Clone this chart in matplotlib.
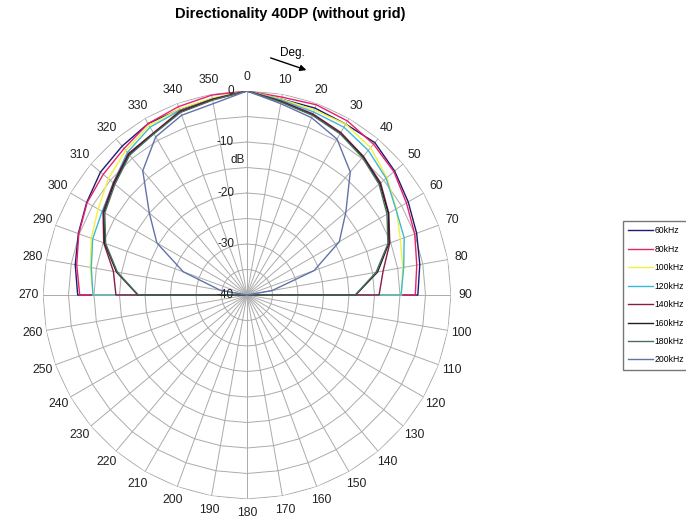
import numpy as np
import matplotlib
matplotlib.use("Agg")
import matplotlib.pyplot as plt
from matplotlib.transforms import offset_copy

plt.rcParams['font.family'] = ['Liberation Sans', 'DejaVu Sans']

# angles (deg) from 260 round through 0 to 100; ends sit at the -40 dB floor
angles = [260, 270, 280, 290, 300, 310, 320, 330, 340, 350,
          0, 10, 20, 30, 40, 50, 60, 70, 80, 90, 100]

khz60 = [-40, -6.8, -5.8, -4.8, -3.7, -2.5, -1.9, -1.2, -1.3, -0.9,
         0, -1.0, -1.0, -1.3, -1.0, -2.2, -3.5, -4.6, -5.6, -6.5, -40]
khz80 = [-40, -7.2, -6.1, -4.9, -3.8, -3.2, -2.5, -1.2, -0.7, -0.2,
         0, -0.6, -0.3, -0.6, -1.4, -2.4, -3.9, -5.0, -6.2, -7.0, -40]
khz100 = [-40, -9.8, -8.8, -7.5, -6.3, -4.5, -3.0, -1.6, -1.2, -0.8,
          0, -1.0, -1.4, -1.3, -2.3, -4.2, -6.2, -8.0, -9.0, -9.7, -40]
khz120 = [-40, -9.8, -9.0, -7.8, -7.2, -5.8, -3.5, -2.0, -1.5, -1.0,
          0, -1.2, -1.8, -2.0, -3.0, -4.4, -6.3, -7.2, -8.8, -9.8, -40]
khz140 = [-40, -14.3, -13.4, -10.1, -7.4, -5.8, -3.8, -3.3, -1.6, -1.0,
          0, -1.4, -2.2, -3.2, -4.5, -5.8, -7.9, -10.2, -12.9, -14.1, -40]
khz160 = [-40, -18.6, -14.0, -10.3, -7.6, -6.0, -4.0, -3.4, -1.8, -1.1,
          0, -1.5, -2.4, -3.4, -4.6, -6.0, -8.0, -10.4, -14.0, -18.7, -40]
khz180 = [-40, -18.7, -14.2, -10.5, -7.8, -6.2, -4.2, -3.5, -1.9, -1.2,
          0, -1.6, -2.5, -3.5, -4.8, -6.2, -8.3, -10.6, -14.3, -18.8, -40]
khz200 = [-40, -40, -34.7, -26.7, -19.6, -15.0, -8.2, -4.2, -2.5, -1.9,
          0, -1.9, -3.0, -4.7, -8.5, -14.7, -19.1, -26.0, -35.0, -40, -40]

series = [khz60, khz80, khz100, khz120, khz140, khz160, khz180, khz200]
labels = ["60kHz", "80kHz", "100kHz", "120kHz", "140kHz", "160kHz", "180kHz", "200kHz"]
colors = ["#1c1c6e", "#e8206e", "#f2f23c", "#3cb8d8", "#8a1a48", "#202020", "#4d6b5d", "#6272aa"]

r_ticks = [0, -10, -20, -30, -40]
r_levels = [-35, -30, -25, -20, -15, -10, -5, 0]
theta_ticks = list(range(0, 360, 10))

grid_col = "#ababab"

fig = plt.figure(figsize=(6.86, 5.29), dpi=100)
ax = fig.add_axes([43 / 686, 30 / 529, 408 / 686, 408 / 529], projection='polar')
ax.set_theta_zero_location('N')
ax.set_theta_direction(-1)
ax.set_ylim(-40, 0)

# polygon style rings like a radar chart
ring_th = np.deg2rad(theta_ticks + [360])
for lev in r_levels:
    ax.plot(ring_th, [lev] * len(ring_th), color=grid_col, lw=0.7, zorder=1)
ax.spines['polar'].set_visible(False)
ax.yaxis.grid(False)
ax.set_yticks([])
ax.set_thetagrids(theta_ticks, labels=[str(a) for a in theta_ticks])
ax.xaxis.grid(True, color=grid_col, lw=0.7)
ax.tick_params(axis='x', length=0, pad=3, labelsize=8.8, colors="#222222")

th = np.deg2rad(angles)
handles = []
for vals, lab, col in zip(series, labels, colors):
    ln, = ax.plot(th, vals, color=col, lw=1.0, label=lab, zorder=3)
    handles.append(ln)

# radial labels left of the 0 deg spoke
tr = offset_copy(ax.transData, fig=fig, x=-13, y=0, units='dots')
for v in r_ticks:
    ax.text(0, v, str(v), transform=tr, ha='right', va='center', fontsize=8.5, color="#222222")
ax.text(0, -13.5, "dB", transform=offset_copy(ax.transData, fig=fig, x=-9, y=0, units='dots'),
        ha='center', va='center', fontsize=8.5, color="#222222")

fig.text(290 / 686, 1 - 14 / 529, "Directionality 40DP (without grid)",
         ha='center', va='center', fontsize=10.5, fontweight='bold')
fig.text(292 / 686, 1 - 53 / 529, "Deg.", ha='center', va='center', fontsize=8.5)
fig.add_artist(matplotlib.patches.FancyArrowPatch(
    (268 / 686, 1 - 57 / 529), (309 / 686, 1 - 71 / 529), transform=fig.transFigure,
    arrowstyle='-|>', mutation_scale=9, lw=1.0, color='black'))

fig.legend(handles, labels, loc='upper left', bbox_to_anchor=(623 / 686, 1 - 221 / 529),
           fontsize=6.2, frameon=True, fancybox=False, edgecolor="#555555", borderaxespad=0,
           handlelength=2.9, handletextpad=0.2, labelspacing=1.1, borderpad=0.6)

fig.savefig("out.png", dpi=100)
